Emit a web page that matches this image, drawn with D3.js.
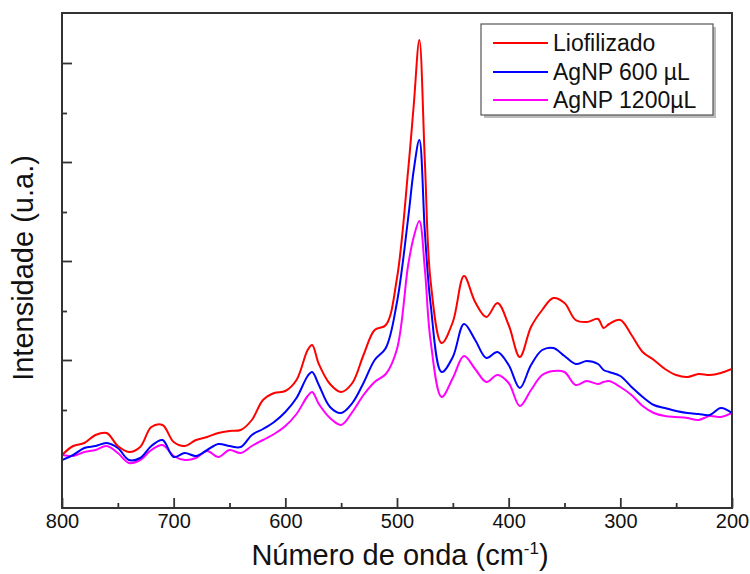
<!DOCTYPE html>
<html>
<head>
<meta charset="utf-8">
<script src="https://cdn.jsdelivr.net/npm/d3@7/dist/d3.min.js"></script>
<style>
  html, body { margin: 0; padding: 0; background: #fff; }
  svg { display: block; font-family: "Liberation Sans", Arial, sans-serif; }
</style>
</head>
<body>
<svg id="chart" width="750" height="574"></svg>
<script>
// ---- Data ----
const wavenumbers = [800,790,780,770,760,750,740,730,720,710,700,690,680,670,660,650,640,630,620,610,600,590,580,576,570,560,550,540,530,520,510,500,490,485,480,475,470,460,450,440,430,420,410,400,390,380,370,360,350,340,330,320,315,310,300,290,280,270,260,250,240,230,220,210,200];

const liofilizado = [53,62,65,73,75,62,56,61,81,83,66,62,68,71,75,77,78,88,108,115,117,128,158,163,144,124,116,125,153,178,183,230,338,403,468,345,228,165,186,232,206,191,205,183,151,181,198,210,205,188,186,189,180,184,188,173,156,148,139,133,131,134,133,135,139];

const agnp600 = [48,53,60,62,65,60,48,50,62,68,51,55,52,58,64,62,61,73,79,86,96,110,132,136,123,101,95,105,125,148,160,206,290,338,368,275,205,136,151,184,168,150,156,143,120,143,158,160,152,144,147,144,138,136,132,121,111,103,100,97,95,94,93,100,95];

const agnp1200 = [53,52,56,58,62,55,45,48,58,63,52,48,50,57,51,58,55,62,68,74,82,94,112,116,104,90,83,96,113,126,134,159,243,271,287,238,168,111,130,152,139,126,133,125,102,118,133,137,136,123,127,124,126,127,121,113,102,95,92,91,90,88,92,91,95];

const seriesNames = ["Liofilizado", "AgNP 600 µL", "AgNP 1200µL"];
const seriesColors = ["#ff0000", "#0000ff", "#ff00ff"];

const xMajorTicks = [800,700,600,500,400,300,200];
const xMinorTicks = [750,650,550,450,350,250];
const yMajorTicks = [148,247,346,445];
const yMinorTicks = [98,197,296,395];

// ---- Layout ----
const svg = d3.select("#chart");
const plot = {left: 62, right: 732, top: 13, bottom: 508};

const x = d3.scaleLinear().domain([800, 200]).range([plot.left, plot.right]);
const y = d3.scaleLinear().domain([0, 495]).range([plot.bottom, plot.top]);

const series = [liofilizado, agnp600, agnp1200];

svg.append("defs").append("clipPath").attr("id", "clip")
  .append("rect")
  .attr("x", plot.left).attr("y", plot.top)
  .attr("width", plot.right - plot.left).attr("height", plot.bottom - plot.top);

const line = d3.line()
  .x((d, i) => x(wavenumbers[i]))
  .y(d => y(d))
  .curve(d3.curveCatmullRom.alpha(0.5));

const g = svg.append("g").attr("clip-path", "url(#clip)");
[2, 1, 0].forEach(k => {
  g.append("path")
    .datum(series[k])
    .attr("fill", "none")
    .attr("stroke", seriesColors[k])
    .attr("stroke-width", 2)
    .attr("stroke-linejoin", "round")
    .attr("d", line);
});

// ---- Axes ----
const xAxisMajor = d3.axisBottom(x).tickValues(xMajorTicks).tickSize(-10).tickPadding(6).tickFormat(d3.format("d"));
const xAxisMinor = d3.axisBottom(x).tickValues(xMinorTicks).tickSize(-5).tickFormat("");
const yAxisMajor = d3.axisLeft(y).tickValues(yMajorTicks).tickSize(-10).tickFormat("");
const yAxisMinor = d3.axisLeft(y).tickValues(yMinorTicks).tickSize(-5).tickFormat("");

function styleAxis(sel) {
  sel.select(".domain").remove();
  sel.selectAll(".tick line").attr("stroke", "#333").attr("stroke-width", 1.8);
  sel.selectAll(".tick text").attr("fill", "#111").style("font-size", "20px")
     .style("font-family", "'Liberation Sans', Arial, sans-serif");
}

svg.append("g").attr("transform", `translate(0,${plot.bottom})`).call(xAxisMajor).call(styleAxis);
svg.append("g").attr("transform", `translate(0,${plot.bottom})`).call(xAxisMinor).call(styleAxis);
svg.append("g").attr("transform", `translate(${plot.left},0)`).call(yAxisMajor).call(styleAxis);
svg.append("g").attr("transform", `translate(${plot.left},0)`).call(yAxisMinor).call(styleAxis);

svg.append("rect")
  .attr("x", plot.left).attr("y", plot.top)
  .attr("width", plot.right - plot.left).attr("height", plot.bottom - plot.top)
  .attr("fill", "none").attr("stroke", "#333").attr("stroke-width", 2);

// ---- Axis titles ----
const xt = svg.append("text")
  .attr("x", (plot.left + plot.right) / 2 + 3).attr("y", 565)
  .attr("text-anchor", "middle")
  .style("font-size", "29px").attr("fill", "#111");
xt.append("tspan").text("Número de onda (cm");
xt.append("tspan").attr("dy", -11).style("font-size", "17px").text("-1");
xt.append("tspan").attr("dy", 11).text(")");

svg.append("text")
  .attr("transform", `translate(33,268) rotate(-90)`)
  .attr("text-anchor", "middle")
  .style("font-size", "29px").attr("fill", "#111")
  .text("Intensidade (u.a.)");

// ---- Legend ----
const leg = {x: 481, y: 24, w: 232, h: 91};
svg.append("rect").attr("x", leg.x + 3).attr("y", leg.y + 3).attr("width", leg.w).attr("height", leg.h)
  .attr("fill", "#bbb");
svg.append("rect").attr("x", leg.x).attr("y", leg.y).attr("width", leg.w).attr("height", leg.h)
  .attr("fill", "#fff").attr("stroke", "#555").attr("stroke-width", 1.2);

const rowsY = [43, 72, 100];
seriesNames.forEach((name, i) => {
  svg.append("line")
    .attr("x1", 493).attr("x2", 548).attr("y1", rowsY[i]).attr("y2", rowsY[i])
    .attr("stroke", seriesColors[i]).attr("stroke-width", 2);
  svg.append("text")
    .attr("x", 553).attr("y", rowsY[i] + 8)
    .style("font-size", "23px").attr("fill", "#111")
    .text(name);
});
</script>
</body>
</html>
